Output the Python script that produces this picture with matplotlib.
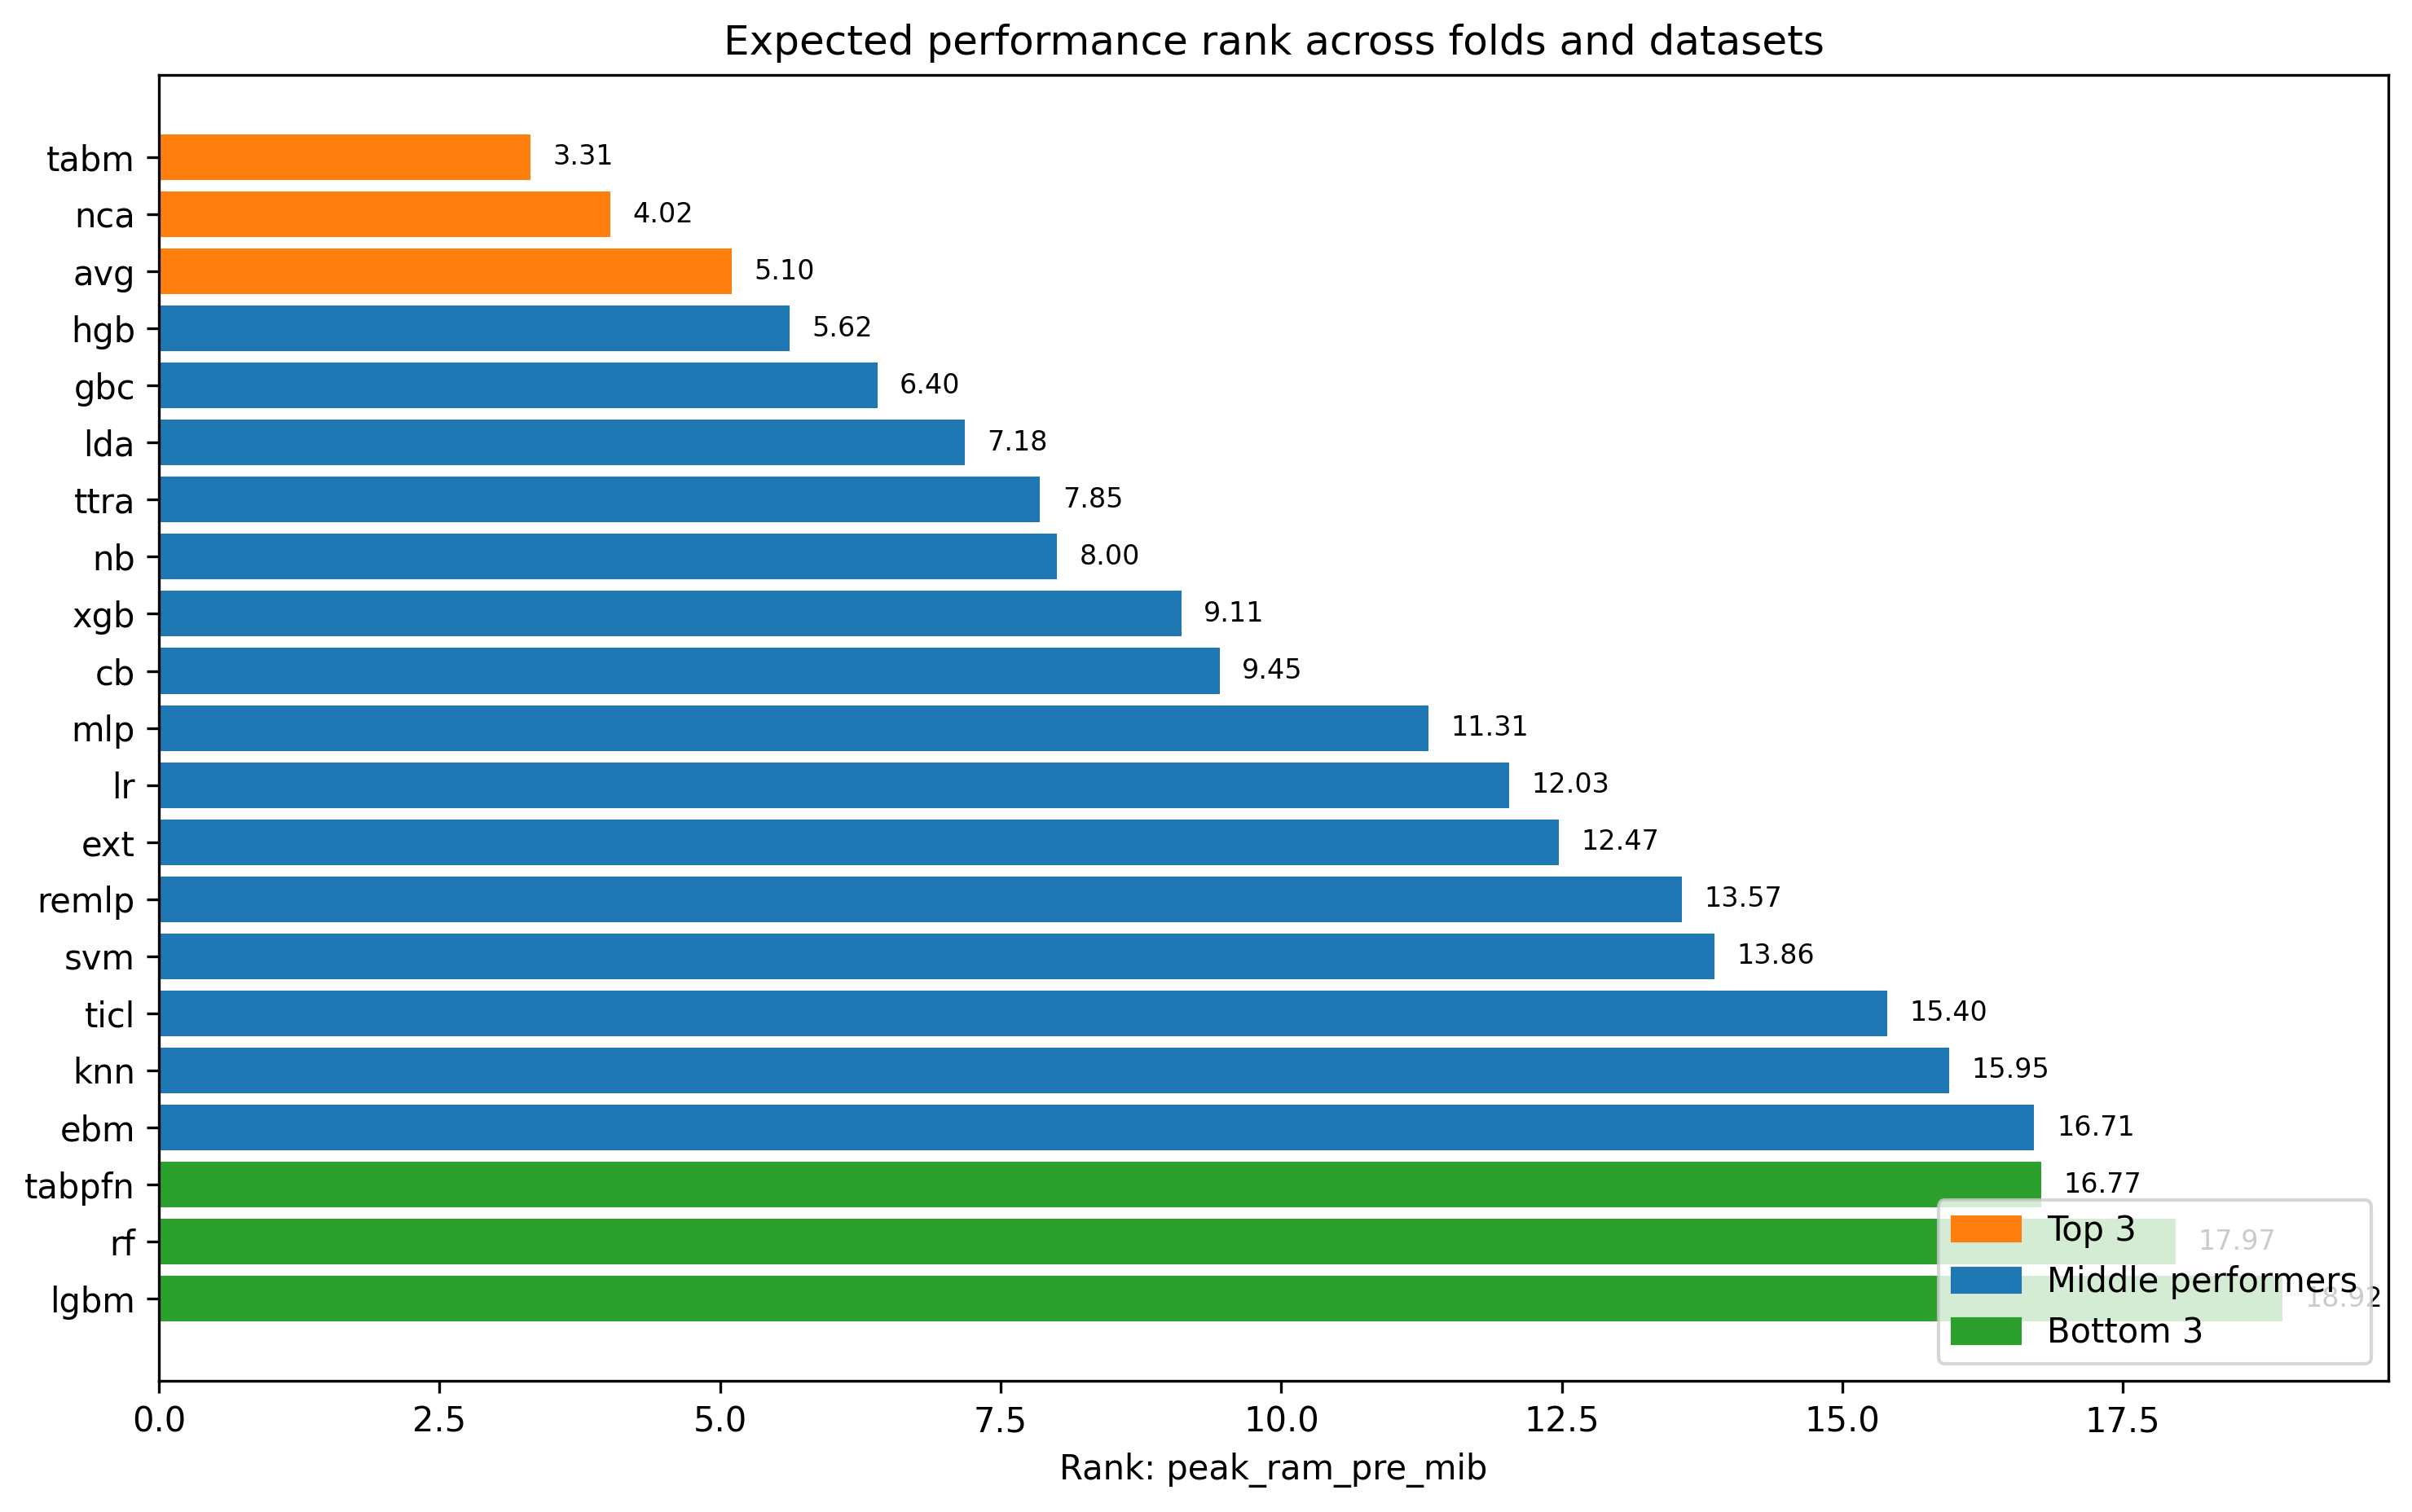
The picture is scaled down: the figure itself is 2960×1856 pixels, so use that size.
import matplotlib
matplotlib.use('agg')
from matplotlib import pyplot as plt
from matplotlib.patches import Patch

models = ["tabm", "nca", "avg", "hgb", "gbc", "lda", "ttra", "nb", "xgb", "cb", "mlp",
          "lr", "ext", "remlp", "svm", "ticl", "knn", "ebm", "tabpfn", "rf", "lgbm"]
ranks = [3.31, 4.02, 5.10, 5.62, 6.40, 7.18, 7.85, 8.00, 9.11, 9.45, 11.31,
         12.03, 12.47, 13.57, 13.86, 15.40, 15.95, 16.71, 16.77, 17.97, 18.92]
groups = ["Top 3", "Middle performers", "Bottom 3"]
group_colors = ['#ff7f0e', '#1f77b4', '#2ca02c']

n = len(models)
colors = []
for i in range(n):
    if i < 3:
        colors.append(group_colors[0])
    elif i >= n - 3:
        colors.append(group_colors[2])
    else:
        colors.append(group_colors[1])

fig, ax = plt.subplots(figsize=(2961 / 300, 1856 / 300), dpi=300)
fig.subplots_adjust(left=0.0659, right=0.9899, top=0.9504, bottom=0.0867)

pos = list(range(n))
ax.barh(pos, ranks, color=colors)
ax.set_yticks(pos)
ax.set_yticklabels(models)
ax.invert_yaxis()

for p, v in zip(pos, ranks):
    ax.text(v + 0.2, p, "%.2f" % v, va='center', ha='left', fontsize=8)

ax.set_xlim(0, max(ranks) * 1.05)
ax.set_xlabel("Rank: peak_ram_pre_mib")
ax.set_title("Expected performance rank across folds and datasets")

handles = [Patch(color=c, label=g) for c, g in zip(group_colors, groups)]
ax.legend(handles=handles, loc='lower right')

plt.savefig("out.png")
